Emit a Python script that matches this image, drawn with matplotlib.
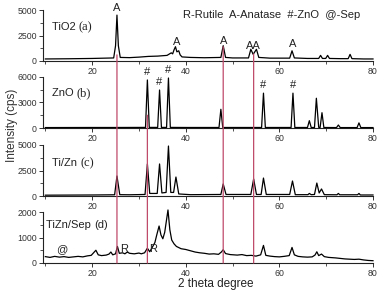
import matplotlib
matplotlib.use("Agg")
import matplotlib.pyplot as plt
from matplotlib.patches import ConnectionPatch
from matplotlib.ticker import MultipleLocator

plt.rcParams['font.family'] = ['Liberation Sans', 'DejaVu Sans']

# ---------------- data (2theta, intensity) ----------------
tio2_x = [10, 15, 20, 24.6, 25.0, 25.3, 25.6, 26.0, 28, 30, 32, 34, 36, 36.9, 37.2, 37.5,
          37.8, 38.1, 38.5, 38.8, 39.2, 41, 44, 47.5, 48.0, 48.5, 50, 53.4, 53.9, 54.4,
          55.1, 55.6, 58, 62.2, 62.7, 63.2, 66, 68.4, 68.8, 69.2, 69.9, 70.3, 70.7, 73,
          74.7, 75.1, 75.5, 78, 80]
tio2_y = [200, 220, 250, 300, 1500, 4500, 1500, 350, 330, 380, 450, 480, 550, 800, 700, 1100,
          1400, 900, 1000, 600, 400, 350, 320, 350, 1500, 350, 300, 300, 1150, 650,
          1150, 350, 280, 280, 1000, 300, 250, 250, 550, 250, 250, 550, 250, 230,
          230, 650, 230, 200, 200]

zno_x = [10, 20, 25, 31.4, 31.8, 32.2, 34.0, 34.4, 34.8, 35.9, 36.3, 36.7, 40, 47.1, 47.5,
         47.9, 56.2, 56.6, 57.0, 62.5, 62.9, 63.3, 66.0, 66.4, 66.8, 67.5, 67.9, 68.4, 68.7,
         69.1, 69.5, 72.2, 72.6, 73.0, 76.6, 77.0, 77.4, 80]
zno_y = [50, 60, 60, 70, 5650, 70, 70, 4470, 70, 70, 5880, 70, 60, 60, 2200,
         60, 60, 4100, 60, 60, 4100, 60, 60, 860, 60, 60, 3500, 80, 60,
         1800, 60, 50, 350, 50, 50, 600, 50, 50]

tizn_x = [10, 20, 24.8, 25.3, 25.9, 28, 31.3, 31.8, 32.3, 33.9, 34.4, 34.9, 35.8, 36.3, 36.8,
          37.4, 37.9, 38.5, 41, 47.5, 48.0, 48.6, 53.9, 54.5, 55.1, 56.1, 56.6, 57.2, 62.2,
          62.8, 63.4, 66.1, 66.4, 66.8, 67.5, 68.0, 68.5, 69.0, 69.6, 72.3, 72.6, 72.9, 76.7,
          77.0, 77.3, 80]
tizn_y = [80, 100, 120, 1960, 130, 120, 150, 3140, 250, 250, 3140, 300, 350, 4900, 350,
          350, 1860, 200, 130, 150, 1180, 150, 150, 1670, 150, 150, 1760, 150, 150,
          1470, 130, 130, 250, 130, 150, 1270, 300, 690, 130, 120, 250, 120, 120,
          250, 100, 100]

sep_x = [10, 11, 12, 13, 14, 15, 16, 17, 18, 19, 19.8, 20.3, 20.8, 21.3, 22, 23, 23.6, 24.0,
         24.4, 25.0, 25.4, 25.8, 26.5, 27.0, 27.5, 28, 29, 30, 30.5, 31.2, 31.8, 32.3, 32.8,
         33.4, 33.8, 34.3, 34.7, 35.1, 35.5, 36.2, 36.6, 37.0, 37.5, 38, 39, 40, 41, 42, 43,
         44, 45, 46, 47, 47.6, 48.0, 48.5, 49.5, 51, 52, 53, 54, 55, 56.0, 56.6, 57.1, 58,
         59, 60, 61, 62.1, 62.7, 63.2, 64, 65, 66, 67, 67.6, 68.0, 68.4, 69.0, 69.6, 70.5,
         72, 73, 74, 75, 76, 77, 78, 79, 80]
sep_y = [250, 220, 260, 230, 250, 220, 240, 260, 240, 280, 300, 400, 500, 320, 290, 310, 350, 430,
         320, 360, 650, 380, 400, 360, 430, 380, 360, 390, 360, 400, 580, 440, 600,
         800, 1100, 1450, 1100, 950, 1200, 2080, 1300, 900, 750, 650, 560, 530, 480, 430, 400,
         380, 350, 360, 340, 430, 520, 370, 330, 310, 330, 290, 300, 270, 320, 690, 300, 270,
         250, 240, 260, 290, 610, 320, 260, 240, 230, 240, 310, 440, 290, 350, 250, 220,
         200, 180, 160, 150, 140, 150, 120, 100, 90]

panel_names = ["TiO2", "ZnO", "Ti/Zn", "TiZn/Sep"]
panel_tags = ["(a)", "(b)", "(c)", "(d)"]
panel_top = [5000, 6000, 5000, 2000]
panel_step = [2500, 3000, 2500, 1000]

# peak marker labels: (panel index, 2theta, intensity, text)
mark_panel = [0, 0, 0, 0, 0, 1, 1, 1, 1, 1, 3, 3, 3]
mark_x = [25.3, 38.0, 48.0, 54.5, 62.8, 31.8, 34.4, 36.3, 56.6, 62.9, 13.5, 26.9, 33.1]
mark_y = [5200, 1900, 2000, 1500, 1700, 6600, 5400, 6800, 5050, 5050, 540, 540, 540]
mark_t = ["A", "A", "A", "AA", "A", "#", "#", "#", "#", "#", "@", "R", "R"]

# red reference lines: 2theta, start panel, start intensity
ref_x = [25.3, 31.8, 48.0, 54.5]
ref_panel = [0, 1, 0, 0]
ref_y0 = [600, 1500, 1400, 700]

legend_text = "R-Rutile  A-Anatase  #-ZnO  @-Sep"

# ---------------- figure ----------------
fig = plt.figure(figsize=(3.84, 2.91), dpi=100)
L, W, H = 43 / 384, 330 / 384, 51 / 291
bottoms_px = [61, 128, 196, 263]
xs = [tio2_x, zno_x, tizn_x, sep_x]
ys = [tio2_y, zno_y, tizn_y, sep_y]
tag_pos = [(0.027, 0.667), (0.027, 0.686), (0.027, 0.647), (0.010, 0.745)]
axes = []
for i in range(4):
    ax = fig.add_axes([L, 1 - bottoms_px[i] / 291, W, H])
    ax.patch.set_alpha(0)
    ax.plot(xs[i], ys[i], color='black', lw=0.9, clip_on=False, zorder=3)
    ax.set_xlim(9.5, 80)
    ax.set_ylim(0, panel_top[i])
    for s in ['top', 'right']:
        ax.spines[s].set_visible(False)
    for s in ['left', 'bottom']:
        ax.spines[s].set_linewidth(0.8)
        ax.spines[s].set_color('#222222')
    ax.xaxis.set_major_locator(MultipleLocator(20))
    ax.xaxis.set_minor_locator(MultipleLocator(10))
    ax.yaxis.set_major_locator(MultipleLocator(panel_step[i]))
    ax.yaxis.set_minor_locator(MultipleLocator(panel_step[i] / 2))
    ax.tick_params(which='major', direction='out', length=3, width=0.7, labelsize=6.3,
                   colors='#333333', pad=1.5)
    ax.tick_params(which='minor', direction='out', length=2, width=0.6, colors='#333333')
    ax.set_xticks([20, 40, 60, 80])
    fx, fy = tag_pos[i]
    ax.text(fx, fy, panel_names[i] + " ", transform=ax.transAxes, fontsize=8,
            va='center', ha='left', color='#222222')
    axes.append(ax)

# panel tags after the name
fig.canvas.draw()
for i, ax in enumerate(axes):
    t = ax.texts[0]
    bb = t.get_window_extent()
    inv = ax.transAxes.inverted()
    x1 = inv.transform((bb.x1, bb.y0))[0]
    fam = ['Liberation Serif'] if i < 3 else ['Liberation Sans']
    ax.text(x1, tag_pos[i][1], panel_tags[i], transform=ax.transAxes,
            fontsize=9 if i < 3 else 8, va='center', ha='left', family=fam, color='#222222')

for p, x, y, t in zip(mark_panel, mark_x, mark_y, mark_t):
    axes[p].text(x, y, t, fontsize=8, ha='center', va='center', color='#222222',
                 clip_on=False, zorder=5)

for x, p, y0 in zip(ref_x, ref_panel, ref_y0):
    con = ConnectionPatch(xyA=(x, y0), coordsA=axes[p].transData,
                          xyB=(x, 0), coordsB=axes[3].transData,
                          color='#c04a6a', lw=0.9, zorder=2)
    fig.add_artist(con)

fig.text(183 / 384, 1 - 15 / 291, legend_text, fontsize=8, ha='left', va='center',
         color='#222222')
fig.text(12 / 384, 1 - 125 / 291, "Intensity (cps)", rotation=90, fontsize=8.5,
         ha='center', va='center', color='#333333')
fig.text(216 / 384, 1 - 284 / 291, "2 theta degree", fontsize=8.5, ha='center',
         va='center', color='#222222')

fig.savefig("out.png", dpi=100)
